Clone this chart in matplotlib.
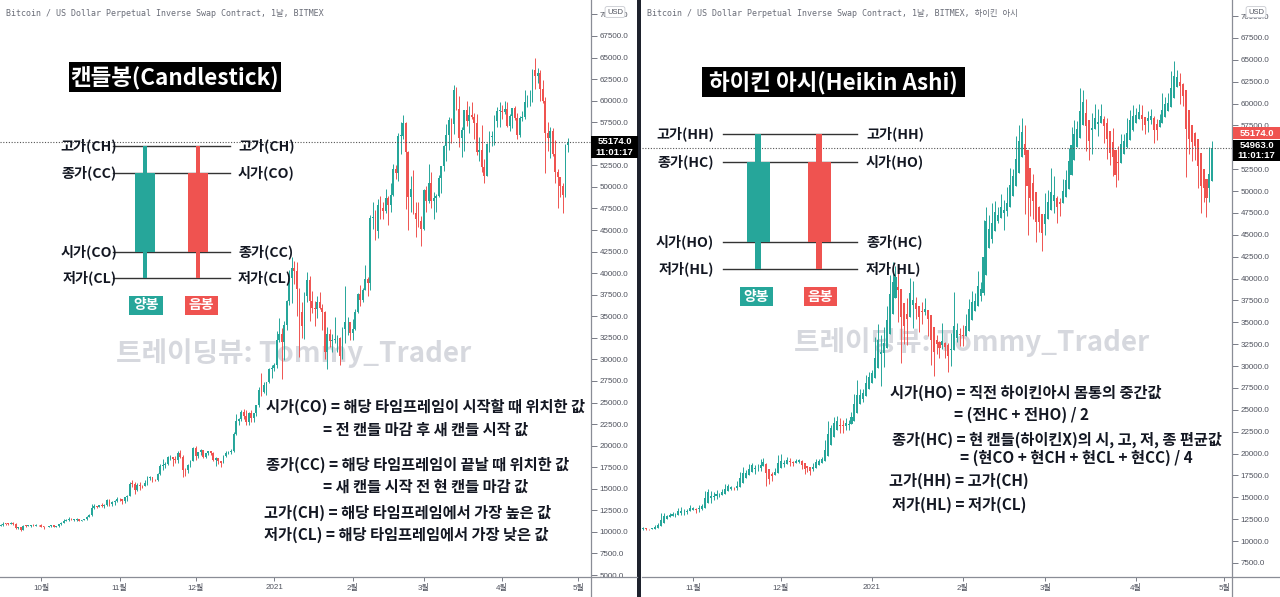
import matplotlib
matplotlib.use("Agg")
import matplotlib.pyplot as plt
import matplotlib.dates as mdates
from matplotlib.patches import Rectangle
from matplotlib.lines import Line2D
import numpy as np
import pandas as pd

plt.rcParams['font.family'] = ['Noto Sans CJK KR', 'DejaVu Sans']

# 일봉 데이터 (BitMEX XBTUSD, 2020-09-10 ~ 2021-04-27)
start_date = "2020-09-10"
first_open = 10240
closes = [
    # 9월
    10360, 10400, 10440, 10330, 10680, 10790, 10950, 10940, 10930, 11080, 10920,
    10420, 10530, 10240, 10740, 10690, 10730, 10770, 10700, 10840, 10780,
    # 10월
    10620, 10580, 10550, 10670, 10790, 10600, 10670, 10920, 11060, 11300, 11380,
    11540, 11420, 11430, 11500, 11320, 11370, 11510, 11750, 11910, 12820, 12970,
    12930, 13120, 13030, 13070, 13650, 13270, 13460, 13560, 13800,
    # 11월
    13760, 13550, 14030, 14150, 15590, 15580, 14830, 15480, 15330, 15300, 15700,
    16280, 16320, 16070, 15960, 16720, 17650, 17800, 17820, 18680, 18700, 18420,
    18370, 19160, 18720, 17150, 17140, 17720, 18180, 19700,
    # 12월
    18790, 19210, 19440, 18650, 19150, 19360, 19170, 18320, 18550, 18250, 18030,
    18800, 19170, 19270, 19430, 21330, 22800, 23130, 23860, 23480, 22720, 23810,
    23230, 23730, 24710, 26440, 26250, 27040, 27370, 28840, 29000,
    # 1월
    29400, 32200, 33000, 32000, 34000, 36800, 39400, 40600, 40200, 38200, 35500,
    33900, 37300, 39200, 36800, 36000, 35800, 36600, 36000, 35500, 30800, 33000,
    32100, 32300, 32300, 32500, 30400, 33500, 34300, 34300, 33100,
    # 2월
    33500, 35500, 37600, 36900, 38100, 39300, 38800, 46400, 46500, 44900, 47900,
    47500, 47200, 48700, 47900, 49100, 52100, 51600, 55900, 55900, 57400, 54100,
    48800, 49700, 47000, 46300, 46100, 45100,
    # 3월
    49600, 48400, 50500, 48400, 48700, 48900, 51000, 52400, 54800, 56000, 57800,
    57300, 61200, 59000, 55700, 56600, 58900, 57600, 58300, 58100, 57400, 54100,
    54300, 52300, 51300, 55000, 55800, 55800, 57600, 58800, 58800,
    # 4월
    58700, 59000, 57100, 58200, 59100, 58000, 56000, 58000, 58100, 59800, 59800,
    59900, 63500, 62900, 63200, 61400, 60000, 56200, 55700, 56500, 53800, 51700,
    51200, 50100, 49100, 54900, 55174,
]
highs = [
    10500, 10450, 10480, 10580, 10800, 10940, 11100, 11040, 11040, 11180, 11100,
    10990, 10580, 10550, 10780, 10760, 10780, 10800, 10960, 10860, 10850,
    10930, 10660, 10600, 10690, 10800, 10800, 10690, 10960, 11100, 11490, 11450,
    11700, 11560, 11550, 11600, 11530, 11400, 11530, 11820, 12020, 13220, 13180,
    13020, 13160, 13340, 13250, 13780, 13860, 13620, 13660, 14080,
    13900, 13830, 14070, 14250, 15760, 15960, 15760, 15650, 15830, 15450, 15960,
    16480, 16470, 16330, 16150, 16860, 17850, 18480, 18130, 18800, 18960, 18710,
    18760, 19400, 19490, 18900, 17450, 17850, 18330, 19860,
    19920, 19310, 19570, 19500, 19170, 19400, 19420, 19270, 18640, 18560, 18270,
    18950, 19400, 19340, 19560, 21560, 23700, 23260, 24170, 24280, 24080, 23850,
    24100, 23800, 24770, 26820, 28400, 27400, 27380, 28960, 29300,
    29600, 33300, 34800, 33600, 34500, 36900, 40400, 41900, 41400, 41300, 38300,
    36600, 37800, 40100, 39700, 37900, 36800, 37300, 37800, 36400, 35600, 33800,
    33500, 32900, 34900, 32800, 32600, 33800, 38500, 34900, 34300,
    34700, 35900, 37700, 38600, 38300, 40900, 39600, 46700, 48200, 47300, 48600,
    48900, 48200, 49700, 49000, 50500, 52600, 52500, 56300, 57500, 58300, 57500,
    54200, 51300, 52000, 48300, 48300, 46600,
    49800, 50100, 52600, 51700, 49400, 49200, 51400, 52400, 54900, 57300, 58100,
    58000, 61800, 61600, 60500, 56900, 58900, 60000, 59400, 59900, 58600, 58400,
    55800, 57200, 53200, 55100, 56500, 56500, 58300, 59300, 59800,
    59500, 60000, 59800, 58500, 59200, 59400, 58600, 58200, 58800, 61200, 60700,
    61200, 63700, 64900, 63800, 63500, 62400, 60400, 57500, 57000, 56800, 55400,
    52100, 51200, 50500, 55000, 55700,
]
lows = [
    10200, 10200, 10300, 10220, 10260, 10630, 10680, 10750, 10820, 10890, 10780,
    10290, 10350, 10140, 10200, 10550, 10650, 10620, 10680, 10650, 10690,
    10540, 10380, 10510, 10530, 10620, 10540, 10580, 10560, 10830, 11050, 11280,
    11220, 11350, 11280, 11250, 11220, 11310, 11360, 11400, 11690, 11900, 12700,
    12730, 12880, 12900, 12800, 13050, 12950, 12980, 13140, 13470,
    13620, 13200, 13300, 13540, 14120, 15200, 14360, 14720, 14810, 15080, 15280,
    15420, 15960, 15800, 15870, 15870, 16560, 17230, 17350, 17770, 18340, 17650,
    18000, 18030, 18570, 16320, 16500, 16880, 17550, 18180,
    18330, 18510, 18940, 18580, 18600, 18930, 18900, 18200, 17650, 17910, 17570,
    18000, 18730, 19000, 19060, 19280, 21230, 22370, 22800, 23080, 22400, 22350,
    22700, 22730, 23430, 24500, 25800, 26100, 25880, 27300, 27900,
    28700, 29000, 32000, 27700, 29900, 33400, 36300, 36500, 38700, 35000, 30300,
    32500, 32400, 36700, 34400, 35400, 33900, 34800, 35800, 33400, 30100, 28900,
    31400, 30900, 31900, 30900, 29300, 30000, 31900, 32800, 32300,
    32300, 33400, 35400, 36200, 36600, 38100, 37400, 38100, 45100, 43800, 44100,
    46300, 46300, 47000, 45600, 47100, 48900, 50900, 50700, 53800, 55500, 47400,
    45000, 47100, 46800, 44200, 45300, 43100,
    45000, 47100, 48100, 47500, 46300, 47100, 48800, 49300, 51800, 53000, 54300,
    55100, 56100, 58900, 54600, 53500, 54200, 57100, 56300, 57900, 55500, 53700,
    53000, 51700, 50500, 51300, 54000, 54800, 54900, 57000, 56900,
    57900, 58500, 57000, 56500, 56800, 57700, 55500, 55800, 57600, 57900, 59300,
    59400, 59800, 61300, 62000, 60000, 59700, 51600, 54200, 53400, 53600, 50400,
    47500, 48800, 47000, 48800, 54078,
]
countdown = "11:01:17"

UP = '#26a69a'
DOWN = '#ef5350'
W, H = 1280, 597

df = pd.DataFrame({'close': closes, 'high': highs, 'low': lows},
                  index=pd.date_range(start_date, periods=len(closes), freq='D'))
df['open'] = [first_open] + closes[:-1]
df['high'] = df[['high', 'open', 'close']].max(axis=1)
df['low'] = df[['low', 'open', 'close']].min(axis=1)

# 하이킨 아시 계산
ha = pd.DataFrame(index=df.index)
ha['close'] = (df['open'] + df['high'] + df['low'] + df['close']) / 4
ha_open = [(df['open'].iloc[0] + df['close'].iloc[0]) / 2]
for i in range(1, len(df)):
    ha_open.append((ha_open[-1] + ha['close'].iloc[i - 1]) / 2)
ha['open'] = ha_open
ha['high'] = pd.concat([df['high'], ha['open'], ha['close']], axis=1).max(axis=1)
ha['low'] = pd.concat([df['low'], ha['open'], ha['close']], axis=1).min(axis=1)


def px(x, y):
    return x / W, 1 - y / H


def draw_candles(ax, d):
    x = mdates.date2num(d.index.to_pydatetime())
    o, hi, lo, c = d['open'].values, d['high'].values, d['low'].values, d['close'].values
    cols = np.where(c >= o, UP, DOWN)
    ax.vlines(x, lo, hi, colors=cols, linewidth=0.7, zorder=2)
    body = np.maximum(np.abs(c - o), 60)
    ax.bar(x, body, bottom=np.minimum(o, c), width=0.7, color=cols, linewidth=0, zorder=3)


def month_label(v, pos):
    d = mdates.num2date(v)
    return str(d.year) if d.month == 1 else f"{d.month}월"


def price_label(v, pos):
    # 현재가 라벨에 가려지는 눈금은 비움
    return "" if v == 55000 else f"{v:.1f}"


fig = plt.figure(figsize=(W / 100, H / 100), dpi=100)
fig.patch.set_facecolor('white')

ax1 = fig.add_axes([0, 20 / H, 591 / W, 577 / H])
ax2 = fig.add_axes([642 / W, 20 / H, 590 / W, 577 / H])

draw_candles(ax1, df)
draw_candles(ax2, ha)

oct1 = mdates.date2num(pd.Timestamp("2020-10-01"))
nov1 = mdates.date2num(pd.Timestamp("2020-11-01"))
ax1.set_xlim(oct1 - 16.2, oct1 + 217.1)
ax2.set_xlim(nov1 - 17.4, nov1 + 183.7)
ax1.set_ylim(4770, 71670)
ax2.set_ylim(5900, 71830)
ax1.set_yticks(np.arange(5000, 70001, 2500))
ax2.set_yticks(np.arange(7500, 70001, 2500))

for ax in (ax1, ax2):
    for s in ax.spines.values():
        s.set_visible(False)
    ax.yaxis.tick_right()
    ax.yaxis.set_major_formatter(plt.FuncFormatter(price_label))
    ax.xaxis.set_major_locator(mdates.MonthLocator())
    ax.xaxis.set_major_formatter(plt.FuncFormatter(month_label))
    ax.tick_params(axis='y', direction='out', length=4, width=0.7, color='#787b86',
                   labelcolor='#50535e', labelsize=5.8, pad=2)
    ax.tick_params(axis='x', direction='out', length=3, width=0.7, color='#787b86',
                   labelcolor='#50535e', labelsize=5.8, pad=2)
    for lab in ax.get_yticklabels() + ax.get_xticklabels():
        lab.set_fontfamily(['Liberation Sans', 'Noto Sans CJK KR'])

# 현재가 점선
ax1.axhline(df['close'].iloc[-1], ls=(0, (1, 1.5)), color='#555555', lw=0.8, zorder=4)
ax2.axhline(ha['close'].iloc[-1], ls=(0, (1, 1.5)), color='#555555', lw=0.8, zorder=4)

# 축 선 / 구분선
axis_col = '#8a8d96'
for xs, ys in [((591, 591), (0, H)), ((1232, 1232), (0, H)),
               ((0, 637), (577, 577)), ((642, W), (577, 577))]:
    fig.add_artist(Line2D([xs[0] / W, xs[1] / W], [1 - ys[0] / H, 1 - ys[1] / H],
                          color=axis_col, lw=0.9))
fig.add_artist(Rectangle(px(637, H), 4 / W, 1, color='#1e222d', lw=0))


# 현재가 라벨
def price_box(x0, y0, y1, color, lines):
    fig.add_artist(Rectangle(px(x0, y1), 47 / W, (y1 - y0) / H, color=color, lw=0, zorder=10))
    n = len(lines)
    for k, t in enumerate(lines):
        yy = y0 + (y1 - y0) * (k + 0.5) / n
        fig.text(*px(x0 + 23.5, yy), t, color='white', fontsize=6.8, ha='center', va='center',
                 fontweight='bold', family=['Liberation Sans'], zorder=11)


price_box(591, 136, 158, '#000000', [f"{df['close'].iloc[-1]:.1f}", countdown])
price_box(1233, 127, 139, DOWN, [f"{df['close'].iloc[-1]:.1f}"])
price_box(1233, 140, 161, '#000000', [f"{ha['close'].iloc[-1]:.1f}", countdown])

for xx in (615, 1256):
    fig.text(*px(xx, 12), "USD", fontsize=5.5, ha='center', va='center', color='#50535e',
             family=['Liberation Sans'],
             bbox=dict(boxstyle='round,pad=0.25', fc='white', ec='#c8cad0', lw=0.6), zorder=12)

# 상단 심볼 정보
hdr = "Bitcoin / US Dollar Perpetual Inverse Swap Contract, 1날, BITMEX"
fig.text(*px(6, 13), hdr, fontsize=6, color='#6a6d78', va='center',
         family=['DejaVu Sans Mono', 'Noto Sans CJK KR'])
fig.text(*px(647, 13), hdr + ", 하이킨 아시", fontsize=6, color='#6a6d78', va='center',
         family=['DejaVu Sans Mono', 'Noto Sans CJK KR'])

# 워터마크
for ax, (wx, wy) in ((ax1, (294, 353)), (ax2, (972, 342))):
    ax.text(*px(wx, wy), "트레이딩뷰: Tommy_Trader", transform=fig.transFigure,
            fontsize=20, fontweight='bold', color='#bcbfc8', alpha=0.6,
            ha='center', va='center', zorder=1)

# 제목 박스
for (x0, y0, x1, y1), title in (((69, 62, 281, 92), "캔들봉(Candlestick)"),
                                ((702, 67, 965, 97), "하이킨 아시(Heikin Ashi)")):
    fig.add_artist(Rectangle(px(x0, y1), (x1 - x0) / W, (y1 - y0) / H, color='black', lw=0, zorder=10))
    fig.text(*px((x0 + x1) / 2, (y0 + y1) / 2 + 1), title, color='white', fontsize=16.2,
             fontweight='bold', ha='center', va='center', zorder=11)


# 캔들 구조 그림
def schematic(levels, lx0, lx1, left_lab, right_lab, lab_l, lab_r, gx, rx, bw, ww, by, bx):
    for y, tl, tr in zip(levels, left_lab, right_lab):
        fig.add_artist(Line2D([lx0 / W, lx1 / W], [1 - y / H, 1 - y / H], color='#333333', lw=1, zorder=10))
        fig.text(*px(lab_l, y), tl, fontsize=10.2, fontweight='bold', ha='right', va='center',
                 color='#131722', zorder=12)
        fig.text(*px(lab_r, y), tr, fontsize=10.2, fontweight='bold', ha='left', va='center',
                 color='#131722', zorder=12)
    for cx, col in ((gx, UP), (rx, DOWN)):
        fig.add_artist(Rectangle(px(cx - ww / 2, levels[3]), ww / W, (levels[3] - levels[0]) / H,
                                 color=col, lw=0, zorder=11))
        fig.add_artist(Rectangle(px(cx - bw / 2, levels[2]), bw / W, (levels[2] - levels[1]) / H,
                                 color=col, lw=0, zorder=11))
    for (x0, x1), col, t in zip(bx, (UP, DOWN), ("양봉", "음봉")):
        fig.add_artist(Rectangle(px(x0, by[1]), (x1 - x0) / W, (by[1] - by[0]) / H,
                                 color=col, lw=0, zorder=11))
        fig.text(*px((x0 + x1) / 2, (by[0] + by[1]) / 2), t, fontsize=10, fontweight='bold',
                 color='white', ha='center', va='center', zorder=12)


schematic([146, 173, 252, 278], 113, 230,
          ["고가(CH)", "종가(CC)", "시가(CO)", "저가(CL)"],
          ["고가(CH)", "시가(CO)", "종가(CC)", "저가(CL)"],
          117, 238, 145, 198, 20, 4.5, (296, 315), ((129, 163), (185, 218)))
schematic([134, 162, 242, 269], 723, 857,
          ["고가(HH)", "종가(HC)", "시가(HO)", "저가(HL)"],
          ["고가(HH)", "시가(HO)", "종가(HC)", "저가(HL)"],
          714, 866, 758, 819, 23, 6, (287, 306), ((740, 773), (804, 837)))

# 설명 텍스트
left_notes = [
    (266, 407, "시가(CO) = 해당 타임프레임이 시작할 때 위치한 값"),
    (323, 430, "= 전 캔들 마감 후 새 캔들 시작 값"),
    (266, 465, "종가(CC) = 해당 타임프레임이 끝날 때 위치한 값"),
    (323, 487, "= 새 캔들 시작 전 현 캔들 마감 값"),
    (264, 513, "고가(CH) = 해당 타임프레임에서 가장 높은 값"),
    (264, 535, "저가(CL) = 해당 타임프레임에서 가장 낮은 값"),
]
right_notes = [
    (890, 393, "시가(HO) = 직전 하이킨아시 몸통의 중간값"),
    (954, 415, "= (전HC + 전HO) / 2"),
    (892, 440, "종가(HC) = 현 캔들(하이킨X)의 시, 고, 저, 종 편균값"),
    (960, 458, "= (현CO + 현CH + 현CL + 현CC) / 4"),
    (889, 481, "고가(HH) = 고가(CH)"),
    (892, 505, "저가(HL) = 저가(CL)"),
]
for x, y, t in left_notes + right_notes:
    fig.text(*px(x, y), t, fontsize=11, fontweight='bold', ha='left', va='center',
             color='#131722', zorder=12)

fig.savefig("out.png", dpi=100, facecolor='white')
